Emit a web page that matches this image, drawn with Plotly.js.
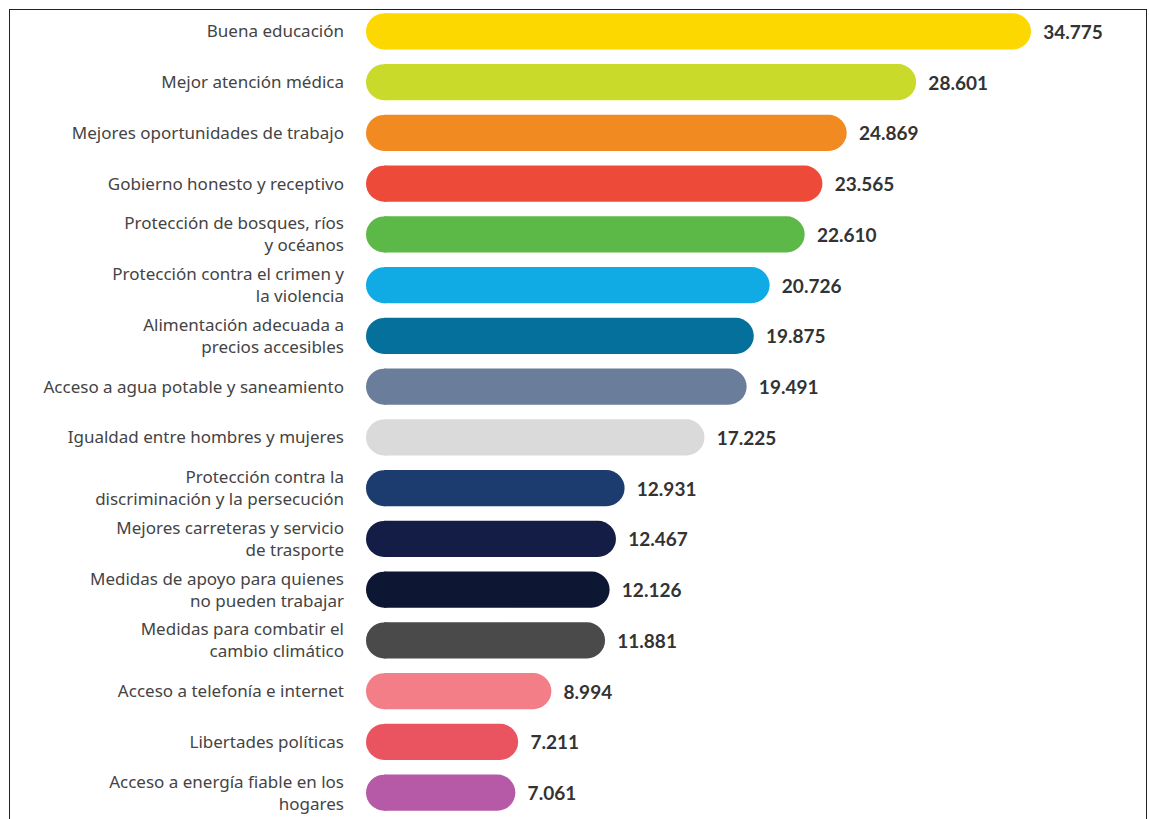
<!DOCTYPE html>
<html>
<head>
<meta charset="utf-8">
<script src="https://cdn.plot.ly/plotly-3.0.1.min.js"></script>
<style>
  html, body { margin: 0; padding: 0; background: #ffffff; }
  #chart { width: 1149px; height: 819px; position: absolute; left: 0; top: 0; }
  #frame { position: absolute; left: 9px; top: 9px; width: 1136px; height: 830px;
           border: 1.5px solid #222; pointer-events: none; }
</style>
</head>
<body>
<div id="chart"></div>
<div id="frame"></div>
<script>
const categories = [
  "Buena educación",
  "Mejor atención médica",
  "Mejores oportunidades de trabajo",
  "Gobierno honesto y receptivo",
  "Protección de bosques, ríos<br>y océanos",
  "Protección contra el crimen y<br>la violencia",
  "Alimentación adecuada a<br>precios accesibles",
  "Acceso a agua potable y saneamiento",
  "Igualdad entre hombres y mujeres",
  "Protección contra la<br>discriminación y la persecución",
  "Mejores carreteras y servicio<br>de trasporte",
  "Medidas de apoyo para quienes<br>no pueden trabajar",
  "Medidas para combatir el<br>cambio climático",
  "Acceso a telefonía e internet",
  "Libertades políticas",
  "Acceso a energía fiable en los<br>hogares"
];
const values = [34775, 28601, 24869, 23565, 22610, 20726, 19875, 19491, 17225, 12931, 12467, 12126, 11881, 8994, 7211, 7061];
const barColors = ["#FDD700", "#C9DA2A", "#F28A22", "#EE4A3A", "#5CB947", "#10ABE5", "#05709B", "#6A7E9C",
                   "#DADADA", "#1C3C70", "#141D45", "#0D1734", "#4A4A4A", "#F37E88", "#EA5460", "#B659A7"];

const bars = {
  type: "bar",
  orientation: "h",
  y: categories,
  x: values,
  marker: { color: barColors, cornerradius: 18, line: { width: 0 } },
  texttemplate: "\u00a0\u00a0%{x:,}",
  textposition: "outside",
  cliponaxis: false,
  textfont: { family: "Lato, 'Noto Sans', sans-serif", size: 19, color: "#333333", weight: "bold" },
  hoverinfo: "skip"
};

// rounded caps at the bars' base (value 0)
const caps = {
  type: "scatter",
  mode: "markers",
  y: categories,
  x: categories.map(() => 0),
  marker: { color: barColors, size: 36, symbol: "circle", line: { width: 0 } },
  cliponaxis: false,
  hoverinfo: "skip"
};

const layout = {
  width: 1149,
  height: 819,
  margin: { l: 384, r: 18, t: 6, b: 1, pad: 0 },
  paper_bgcolor: "#ffffff",
  plot_bgcolor: "#ffffff",
  separators: ",.",
  bargap: 0.29,
  showlegend: false,
  font: { family: "'Noto Sans', sans-serif", color: "#444444" },
  xaxis: { range: [0, 40150], visible: false, showgrid: false, zeroline: false, fixedrange: true },
  yaxis: {
    range: [categories.length - 0.5, -0.5],
    autorange: false,
    showgrid: false, zeroline: false, showline: false, ticks: "",
    ticklabelstandoff: 39,
    tickfont: { family: "'Noto Sans', sans-serif", size: 17, color: "#444444" },
    fixedrange: true
  }
};

Plotly.newPlot("chart", [bars, caps], layout, { displayModeBar: false, staticPlot: true });
</script>
</body>
</html>
